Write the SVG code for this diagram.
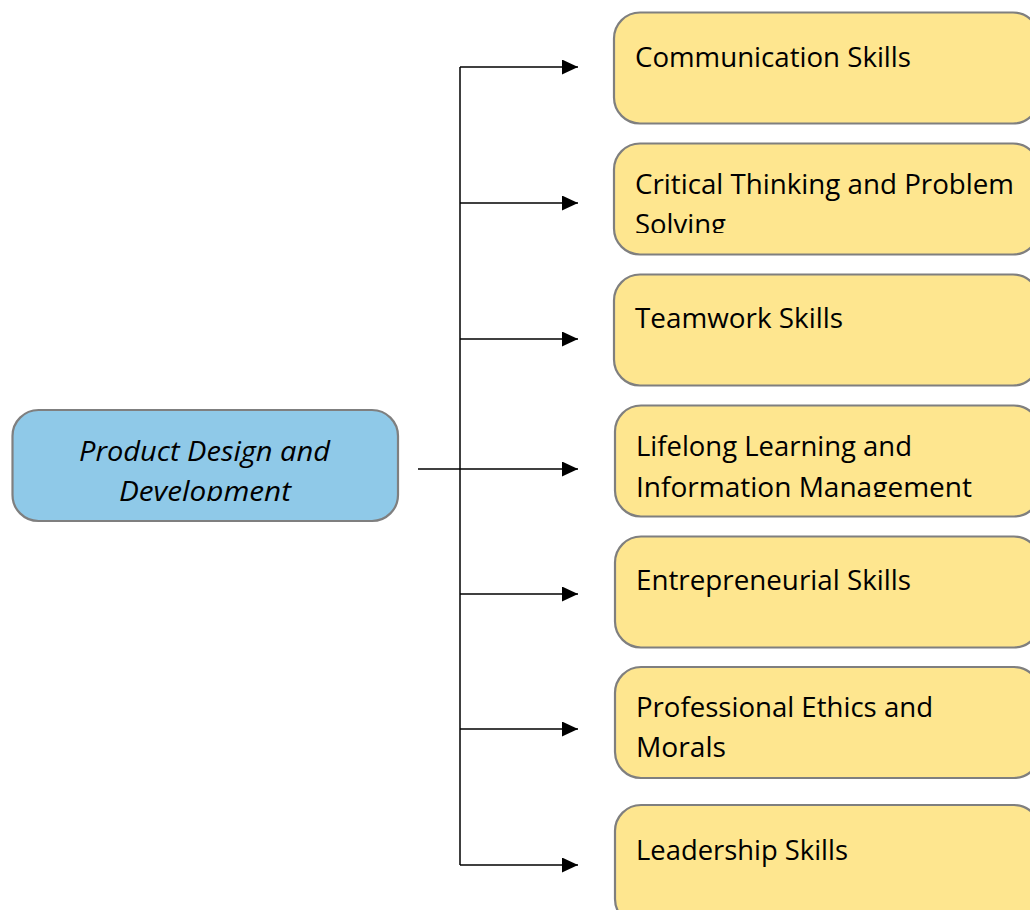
<svg xmlns="http://www.w3.org/2000/svg" width="1030" height="910" viewBox="0 0 1030 910">
<style>
.box{stroke:#7f7f7f;stroke-width:2.2}
.y{fill:#fee68f}
.b{fill:#8fc9e8}
.t{font-family:"Open Sans","Liberation Sans",sans-serif;font-size:27.5px;fill:#000}
.i{font-style:italic}
.c{stroke:#000;stroke-width:1.5;fill:none}
</style>
<defs>
<marker id="ah" markerUnits="userSpaceOnUse" markerWidth="16" markerHeight="15" viewBox="0 0 16 15" refX="16" refY="7.5" orient="auto">
<path d="M0,0 L16,7.5 L0,15 z" fill="#000"/>
</marker>
<clipPath id="cl0"><rect x="0" y="400" width="420" height="101"/></clipPath>
<clipPath id="cl2"><rect x="600" y="140" width="430" height="93"/></clipPath>
<clipPath id="cl4"><rect x="600" y="400" width="430" height="97"/></clipPath>
<clipPath id="cl6"><rect x="600" y="660" width="430" height="98"/></clipPath>
</defs>
<g id="connectors">
<path class="c" d="M460,67 V865"/>
<line class="c" x1="460" y1="67" x2="578" y2="67" marker-end="url(#ah)"/>
<line class="c" x1="460" y1="203" x2="578" y2="203" marker-end="url(#ah)"/>
<line class="c" x1="460" y1="339" x2="578" y2="339" marker-end="url(#ah)"/>
<line class="c" x1="418" y1="469" x2="578" y2="469" marker-end="url(#ah)"/>
<line class="c" x1="460" y1="594" x2="578" y2="594" marker-end="url(#ah)"/>
<line class="c" x1="460" y1="729" x2="578" y2="729" marker-end="url(#ah)"/>
<line class="c" x1="460" y1="865" x2="578" y2="865" marker-end="url(#ah)"/>
</g>
<g id="root">
<rect class="box b" x="12.5" y="410" width="385.5" height="111" rx="26"/>
<g clip-path="url(#cl0)">
<text class="t i" x="79" y="461" textLength="251" lengthAdjust="spacingAndGlyphs">Product Design and</text>
<text class="t i" x="119" y="501" textLength="172" lengthAdjust="spacingAndGlyphs">Development</text>
</g>
</g>
<g id="n1">
<rect class="box y" x="614" y="12.5" width="425" height="111" rx="26"/>
<text class="t" x="635" y="67" textLength="276" lengthAdjust="spacingAndGlyphs">Communication Skills</text>
</g>
<g id="n2">
<rect class="box y" x="614" y="143.5" width="425" height="111" rx="26"/>
<g clip-path="url(#cl2)">
<text class="t" x="635" y="194" textLength="379" lengthAdjust="spacingAndGlyphs">Critical Thinking and Problem</text>
<text class="t" x="635" y="234" textLength="91" lengthAdjust="spacingAndGlyphs">Solving</text>
</g>
</g>
<g id="n3">
<rect class="box y" x="614" y="274.5" width="425" height="111" rx="26"/>
<text class="t" x="635" y="328" textLength="208" lengthAdjust="spacingAndGlyphs">Teamwork Skills</text>
</g>
<g id="n4">
<rect class="box y" x="615" y="405.5" width="425" height="111" rx="26"/>
<g clip-path="url(#cl4)">
<text class="t" x="636" y="456" textLength="276" lengthAdjust="spacingAndGlyphs">Lifelong Learning and</text>
<text class="t" x="636" y="497" textLength="336" lengthAdjust="spacingAndGlyphs">Information Management</text>
</g>
</g>
<g id="n5">
<rect class="box y" x="615" y="536.5" width="425" height="111" rx="26"/>
<text class="t" x="636" y="590" textLength="275" lengthAdjust="spacingAndGlyphs">Entrepreneurial Skills</text>
</g>
<g id="n6">
<rect class="box y" x="615" y="667" width="425" height="111" rx="26"/>
<g clip-path="url(#cl6)">
<text class="t" x="636" y="717" textLength="297" lengthAdjust="spacingAndGlyphs">Professional Ethics and</text>
<text class="t" x="636" y="757" textLength="90" lengthAdjust="spacingAndGlyphs">Morals</text>
</g>
</g>
<g id="n7">
<rect class="box y" x="615" y="805" width="425" height="120" rx="26"/>
<text class="t" x="636" y="860" textLength="212" lengthAdjust="spacingAndGlyphs">Leadership Skills</text>
</g>
</svg>
